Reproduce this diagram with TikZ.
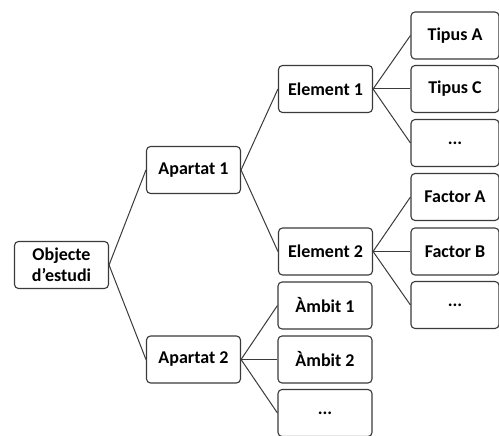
\documentclass[tikz,border=0pt]{standalone}
\usepackage{fontspec}
\setmainfont{Carlito}
\definecolor{boxline}{HTML}{3A3A3A}

\begin{document}
\begin{tikzpicture}[x=1pt,y=-1pt,
  box/.style={draw=boxline,line width=1.1pt,rounded corners=4pt,fill=white,
    minimum width=94pt,minimum height=47pt,align=center,
    font=\fontsize{18}{21}\selectfont\bfseries},
  link/.style={draw=boxline,line width=1pt}]
\useasboundingbox (0,0) rectangle (499,436);
% levels
\node[box] (obj)at(61.5,265){Objecte\\d’estudi};
\node[box] (ap1)at(193.5,170){Apartat 1};
\node[box] (ap2)at(193.5,359.5){Apartat 2};
\node[box] (el1)at(325.5,89){Element 1};
\node[box] (el2)at(325.5,251.5){Element 2};
\node[box] (am1)at(325,305.5){Àmbit 1};
\node[box] (am2)at(325,359.5){Àmbit 2};
\node[box] (am3)at(325,413){...};
\node[box,minimum width=88pt] (ti1)at(455,35.5){Tipus A};
\node[box,minimum width=88pt] (ti2)at(455,89){Tipus C};
\node[box,minimum width=88pt] (ti3)at(455,143){...};
\node[box,minimum width=88pt] (fa1)at(455,197){Factor A};
\node[box,minimum width=88pt] (fa2)at(455,251.5){Factor B};
\node[box,minimum width=88pt] (fa3)at(455,305){...};
% links
\draw[link] (obj.east) -- (ap1.west);
\draw[link] (obj.east) -- (ap2.west);
\draw[link] (ap1.east) -- (el1.west);
\draw[link] (ap1.east) -- (el2.west);
\draw[link] (ap2.east) -- (am1.west);
\draw[link] (ap2.east) -- (am2.west);
\draw[link] (ap2.east) -- (am3.west);
\draw[link] (el1.east) -- (ti1.west);
\draw[link] (el1.east) -- (ti2.west);
\draw[link] (el1.east) -- (ti3.west);
\draw[link] (el2.east) -- (fa1.west);
\draw[link] (el2.east) -- (fa2.west);
\draw[link] (el2.east) -- (fa3.west);
\end{tikzpicture}
\end{document}
